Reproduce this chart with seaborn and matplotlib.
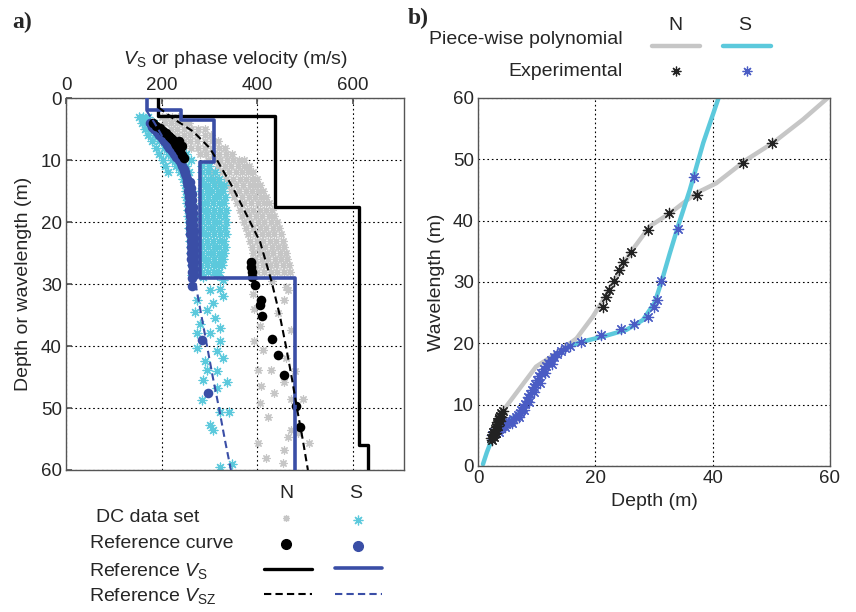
import matplotlib
matplotlib.use("Agg")
import matplotlib.pyplot as plt
import numpy as np
import pandas as pd
import seaborn as sns

# ---------------- panel a: velocity profiles ----------------
# reference Vs step models (layer tops in m, velocity in m/s), bottom at 60 m
N_VS_TOP = [0, 2.85, 17.5, 56.0]
N_VS_VEL = [193, 438, 612, 632]
S_VS_TOP = [0, 1.9, 3.5, 10.4, 29.0]
S_VS_VEL = [169, 240, 309, 280, 478]
MAX_DEPTH = 60

# time-averaged Vsz curves
N_VSZ_DEPTH = [1.5, 3.3, 5.4, 8.1, 10.3, 14.6, 18.9, 23.2, 29.6, 35, 40, 45, 50, 55, 60]
N_VSZ_VEL = [193, 224, 266, 301, 318, 350, 378, 406, 430, 447, 460, 472, 483, 495, 506]
S_VSZ_DEPTH = [2, 4, 6, 8, 10, 13, 16, 20, 25, 30, 35, 40, 45, 50, 55, 60]
S_VSZ_VEL = [168, 185, 200, 215, 232, 245, 252, 258, 263, 271, 283, 295, 307, 320, 332, 345]

# reference dispersion curves (wavelength, phase velocity)
N_REF_WL = [4.1, 4.5, 4.9, 5.3, 5.7, 6.1, 6.5, 6.8, 7.0, 7.2, 7.6, 7.8, 8.1, 8.6, 9.2, 9.6,
            26.4, 27.2, 28.0, 28.8, 30.2, 32.6, 33.4, 35.2, 38.8, 41.5, 44.7, 49.7, 53.0]
N_REF_VEL = [182, 188, 196, 203, 210, 215, 220, 224, 236, 228, 231, 243, 235, 239, 242, 246,
             387, 388, 389, 390, 396, 408, 406, 410, 431, 443, 457, 481, 490]
S_REF_WL = [4.1, 4.6, 5.0, 5.5, 6.0, 6.5, 7.0, 7.5, 8.0, 8.5, 9.0, 9.5, 10.0, 10.5, 11.0,
            11.5, 12.0, 12.5, 13.0, 13.5, 14.0, 14.5, 15.0, 15.5, 16.0, 16.5, 17.0, 17.5,
            18.0, 18.5, 19.0, 19.5, 20.0, 20.5, 21.0, 21.5, 22.0, 22.5, 23.0, 23.5, 24.0,
            24.5, 25.0, 25.5, 26.0, 26.5, 27.0, 27.5, 28.0, 28.5, 29.0, 30.4, 39.1, 47.5]
S_REF_VEL = [175, 180, 185, 190, 195, 200, 205, 211, 216, 221, 226, 231, 236, 240, 243,
             246, 249, 252, 254, 260, 255, 262, 256, 263, 257, 264, 258, 265, 258, 266,
             259, 266, 259, 266, 260, 267, 260, 267, 261, 267, 261, 268, 262, 268, 262,
             268, 263, 268, 263, 268, 264, 264, 285, 298]

# DC data sets: rows of (wavelength, [phase velocities])
N_DC_ROWS = [
    (3, [200, 210, 222, 234]),
    (4, [208, 220, 233, 246, 258]),
    (5, [220, 233, 247, 261, 276, 290]),
    (6, [232, 246, 260, 275, 290, 304]),
    (7, [246, 260, 275, 290, 305, 318]),
    (8, [262, 276, 291, 306, 320, 333]),
    (9, [280, 293, 307, 321, 335, 347]),
    (10, [296, 309, 322, 336, 350, 362, 372]),
    (11, [300, 318, 332, 346, 360, 372, 382]),
    (12, [306, 326, 341, 355, 369, 381, 391]),
    (13, [312, 334, 349, 363, 377, 389, 399]),
    (14, [318, 341, 356, 370, 384, 396, 406]),
    (15, [346, 362, 376, 390, 402, 413]),
    (16, [352, 368, 382, 396, 408, 419]),
    (17, [358, 373, 387, 401, 414, 425]),
    (18, [363, 378, 392, 406, 419, 430]),
    (19, [368, 383, 397, 411, 424, 436]),
    (20, [372, 387, 401, 415, 428, 441]),
    (21, [377, 391, 405, 419, 432, 445]),
    (22, [381, 395, 409, 423, 436, 449]),
    (23, [385, 399, 413, 427, 440, 453]),
    (24, [389, 403, 417, 431, 444, 457]),
    (25, [392, 406, 420, 434, 447, 460]),
    (26, [395, 409, 423, 437, 450, 463]),
    (27, [398, 412, 426, 440, 453, 466]),
    (28, [400, 414, 428, 442, 455, 468]),
]
N_DC_TAIL_WL = [29.5, 30.5, 31, 31.6, 32.6, 34, 34.7, 36.7, 37.4, 39.2, 40.6, 42, 43.8, 43.8,
                44.1, 45.8, 46.5, 47.6, 48.6, 48.6, 49.2, 51.4, 53.5, 54, 54.6, 55.7, 55.7,
                56.7, 58.1, 58.9]
N_DC_TAIL_VEL = [430, 460, 464, 391, 457, 394, 443, 405, 471, 394, 412, 461, 401, 429,
                 478, 457, 408, 436, 471, 496, 405, 422, 471, 485, 464, 401, 509,
                 457, 419, 454]

S_DC_ROWS = [
    (3, [152, 162, 172]),
    (4, [158, 170, 184]),
    (5, [165, 178, 194]),
    (6, [172, 186, 204]),
    (7, [180, 195, 214]),
    (8, [188, 204, 224]),
    (9, [195, 213, 234, 250]),
    (10, [202, 222, 243, 262]),
    (11, [208, 230, 252, 285, 300]),
    (12, [214, 238, 258, 285, 298, 312]),
    (13, [245, 284, 296, 308, 320]),
    (14, [248, 286, 298, 310, 322, 330]),
    (15, [250, 283, 294, 306, 318, 329]),
    (16, [252, 285, 297, 309, 321, 332]),
    (17, [253, 284, 295, 307, 319, 331]),
    (18, [255, 286, 298, 310, 322, 334]),
    (19, [256, 283, 295, 307, 320, 333]),
    (20, [257, 285, 297, 309, 321, 335]),
    (21, [258, 284, 296, 308, 320, 333]),
    (22, [259, 286, 298, 310, 322, 334]),
    (23, [260, 283, 295, 307, 319, 331]),
    (24, [261, 285, 297, 309, 321, 332]),
    (25, [262, 284, 296, 308, 320, 330]),
    (26, [263, 286, 298, 310, 322, 328]),
    (27, [264, 283, 295, 307, 318, 326]),
    (28, [265, 285, 297, 309, 320]),
]
S_DC_TAIL_WL = [28.5, 28.8, 28.6, 29.4, 31, 30.8, 32.6, 33.1, 32, 34.5, 34.2, 35.5, 36.5,
                37.9, 37.1, 37.9, 40.3, 39.2, 40.8, 42.4, 41.9, 43.8, 44.1, 45.5, 45.8,
                48.7, 46.8, 50.6, 50.6, 52.7, 53.5, 59.5, 59]
S_DC_TAIL_VEL = [263, 287, 315, 329, 301, 322, 273, 308, 329, 270, 294, 312, 280,
                 273, 322, 301, 273, 322, 315, 291, 329, 294, 315, 287, 336,
                 284, 315, 322, 340, 301, 308, 322, 347]

# ---------------- panel b: wavelength vs depth ----------------
N_POLY_DEPTH = [1.9, 3.1, 4.8, 9.9, 13.4, 16.8, 19.6, 22.4, 25.9, 29.3, 32.7, 37.2, 40.6,
                45.7, 50.3, 55.4, 59.6]
N_POLY_WL = [3.5, 5.2, 9.7, 16.2, 18.4, 20.8, 24.4, 28.7, 34.7, 39.1, 41.2, 44.5, 46.1,
             49.9, 52.7, 56.5, 60.0]
S_POLY_DEPTH = [0.85, 1.5, 2.3, 3.3, 4.8, 7.0, 8.5, 10.0, 11.5, 13.0, 15.6, 17.9, 21.3,
                25.3, 28.1, 30.1, 31.3, 32.7, 34.1, 36.1, 38.4, 41.0]
S_POLY_WL = [0.3, 2.2, 4.2, 5.8, 6.9, 8.5, 10.5, 13.6, 16.0, 17.8, 19.5, 20.3, 21.1,
             22.2, 23.8, 26.6, 30.1, 34.7, 39.1, 45.0, 52.7, 60.0]

N_EXP_DEPTH = [2.3, 2.4, 2.5, 2.6, 2.7, 2.8, 2.9, 3.0, 3.0, 3.1, 3.2, 3.3, 3.4, 3.5, 3.6,
               3.7, 3.8, 3.9, 4.0, 4.2, 21.3, 21.9, 22.3, 23.2, 24.1, 24.8, 26.0, 29.0,
               32.5, 37.4, 45.2, 50.1]
N_EXP_WL = [4.6, 4.2, 5.0, 5.5, 4.8, 5.2, 6.0, 6.4, 5.3, 5.8, 6.8, 7.2, 6.6, 7.6, 7.9,
            7.3, 8.2, 8.6, 8.0, 8.9, 26.0, 27.6, 28.7, 30.1, 32.0, 33.2, 34.9, 38.5,
            41.2, 44.2, 49.4, 52.6]
S_EXP_DEPTH = [2.4, 2.7, 3.0, 3.2, 3.5, 3.8, 4.1, 4.4, 4.8, 5.2, 5.6, 6.0, 6.4, 6.8, 7.1,
               7.4, 7.7, 8.0, 8.3, 8.6, 8.9, 9.2, 9.5, 9.8, 10.1, 10.4, 10.8, 11.2, 11.6,
               12.0, 12.5, 13.0, 13.5, 14.1, 14.8, 15.6, 3.6, 4.6, 5.8, 7.0, 7.9, 8.7,
               9.6, 10.5, 11.5, 12.6, 17.6, 21.0, 24.3, 26.6, 29.0, 30.0, 30.5, 31.25,
               34.1, 36.9]
S_EXP_WL = [5.0, 5.5, 5.4, 5.9, 6.0, 6.3, 6.5, 6.7, 6.9, 7.2, 7.4, 7.7, 8.0, 8.3, 8.7,
            9.1, 9.6, 10.1, 10.6, 11.2, 11.8, 12.4, 12.9, 13.4, 14.0, 14.6, 15.2, 15.8,
            16.3, 16.8, 17.3, 17.8, 18.3, 18.8, 19.2, 19.6, 5.6, 6.3, 7.0, 8.0, 9.2, 10.5,
            12.0, 13.6, 15.2, 16.6, 20.2, 21.4, 22.4, 23.1, 24.3, 25.9, 27.0, 30.2,
            38.6, 47.1]

BLACK = "#000000"
GREY = "#c6c6c6"
CYAN = "#5cc9dc"
BLUE = "#3a4ea6"
STAR_BLUE = "#4a5cc4"
ASTER = (8, 2, 0)


def step_profile(tops, vels, bottom):
    """Turn layer tops/velocities into the vertices of a step profile."""
    xs, ys = [], []
    bounds = list(tops) + [bottom]
    for i, v in enumerate(vels):
        xs += [v, v]
        ys += [bounds[i], bounds[i + 1]]
    return pd.DataFrame({"vel": xs, "depth": ys})


def rows_to_frame(rows, tail_wl, tail_vel):
    wl = [d for d, vs in rows for _ in vs] + list(tail_wl)
    vel = [v for _, vs in rows for v in vs] + list(tail_vel)
    return pd.DataFrame({"wl": wl, "vel": vel})


def style_axes(ax):
    for sp in ax.spines.values():
        sp.set_color("#555555")
        sp.set_linewidth(1.0)
    ax.grid(True, color="black", linestyle=(0, (1.5, 2.5)), linewidth=0.8)
    ax.tick_params(direction="in", length=4, color="#555555", labelsize=13.5, pad=3)
    ax.set_axisbelow(True)


sns.set_theme(style="white")
plt.rcParams["font.family"] = ["Liberation Sans", "DejaVu Sans"]
plt.rcParams["mathtext.fontset"] = "custom"
plt.rcParams["mathtext.rm"] = "Liberation Sans"
plt.rcParams["mathtext.it"] = "Liberation Sans:italic"

fig = plt.figure(figsize=(8.56, 6.12), dpi=100)
ax_a = fig.add_axes([66 / 856, 1 - 470 / 612, (404 - 66) / 856, (470 - 98) / 612])
ax_b = fig.add_axes([478 / 856, 1 - 466 / 612, (830 - 478) / 856, (466 - 98) / 612])

# ---- panel a
n_dc = rows_to_frame(N_DC_ROWS, N_DC_TAIL_WL, N_DC_TAIL_VEL)
s_dc = rows_to_frame(S_DC_ROWS, S_DC_TAIL_WL, S_DC_TAIL_VEL)
sns.scatterplot(data=n_dc, x="vel", y="wl", ax=ax_a, marker=ASTER, s=28,
                color=GREY, linewidth=0.9, legend=False, zorder=2)
sns.scatterplot(data=s_dc, x="vel", y="wl", ax=ax_a, marker=ASTER, s=40,
                color=CYAN, linewidth=0.9, legend=False, zorder=2)
sns.scatterplot(x=S_REF_VEL, y=S_REF_WL, ax=ax_a, marker="o", s=48, color=BLUE,
                edgecolor=BLUE, linewidth=0, legend=False, zorder=3)
sns.scatterplot(x=N_REF_VEL, y=N_REF_WL, ax=ax_a, marker="o", s=48, color=BLACK,
                edgecolor=BLACK, linewidth=0, legend=False, zorder=4)

n_vs = step_profile(N_VS_TOP, N_VS_VEL, MAX_DEPTH)
s_vs = step_profile(S_VS_TOP, S_VS_VEL, MAX_DEPTH)
sns.lineplot(data=n_vs, x="vel", y="depth", ax=ax_a, sort=False, estimator=None,
             color=BLACK, linewidth=2.4, zorder=5)
sns.lineplot(data=s_vs, x="vel", y="depth", ax=ax_a, sort=False, estimator=None,
             color=BLUE, linewidth=2.6, zorder=5)
sns.lineplot(x=N_VSZ_VEL, y=N_VSZ_DEPTH, ax=ax_a, sort=False, estimator=None,
             color=BLACK, linewidth=1.5, linestyle=(0, (3.5, 2)), zorder=6)
sns.lineplot(x=S_VSZ_VEL, y=S_VSZ_DEPTH, ax=ax_a, sort=False, estimator=None,
             color=BLUE, linewidth=1.5, linestyle=(0, (3.5, 2)), zorder=6)

ax_a.set_xlim(0, 707)
ax_a.set_ylim(60, 0)
ax_a.set_xticks([0, 200, 400, 600])
ax_a.set_yticks(range(0, 61, 10))
ax_a.xaxis.tick_top()
ax_a.xaxis.set_label_position("top")
ax_a.set_xlabel(r"$V_\mathrm{S}$ or phase velocity (m/s)", fontsize=14, labelpad=9)
ax_a.set_ylabel("Depth or wavelength (m)", fontsize=14, labelpad=6)
style_axes(ax_a)
ax_a.tick_params(top=True, bottom=False, left=True)

# ---- panel b
sns.lineplot(x=N_POLY_DEPTH, y=N_POLY_WL, ax=ax_b, sort=False, estimator=None,
             color=GREY, linewidth=3.2, zorder=2)
sns.lineplot(x=S_POLY_DEPTH, y=S_POLY_WL, ax=ax_b, sort=False, estimator=None,
             color=CYAN, linewidth=3.2, zorder=2)
sns.scatterplot(x=S_EXP_DEPTH, y=S_EXP_WL, ax=ax_b, marker=ASTER, s=55,
                color=STAR_BLUE, linewidth=0.9, legend=False, zorder=3)
sns.scatterplot(x=N_EXP_DEPTH, y=N_EXP_WL, ax=ax_b, marker=ASTER, s=55,
                color="#222222", linewidth=0.9, legend=False, zorder=4)
ax_b.set_xlim(0, 60)
ax_b.set_ylim(0, 60)
ax_b.set_xticks([0, 20, 40, 60])
ax_b.set_yticks(range(0, 61, 10))
ax_b.set_xlabel("Depth (m)", fontsize=14, labelpad=4)
ax_b.set_ylabel("Wavelength (m)", fontsize=14, labelpad=6)
style_axes(ax_b)

# ---- panel letters and legend keys drawn in a figure-pixel overlay
key = fig.add_axes([0, 0, 1, 1])
key.set_xlim(0, 856)
key.set_ylim(612, 0)
key.axis("off")

serif = ["Liberation Serif", "DejaVu Serif"]
key.text(12, 22, "a)", fontsize=17, fontweight="bold", family=serif, va="center")
key.text(408, 18, "b)", fontsize=17, fontweight="bold", family=serif, va="center")

# legend of panel a
for x, lab in [(286, "N"), (356, "S")]:
    key.text(x, 493, lab, fontsize=14, ha="center", va="center")
rows_a = [(518, "DC data set", 96), (544, "Reference curve", 90),
          (571, r"Reference $V_\mathrm{S}$", 89), (596, r"Reference $V_\mathrm{SZ}$", 89)]
for y, lab, x in rows_a:
    key.text(x, y, lab, fontsize=14, ha="left", va="center")
key.plot([286], [518], marker=ASTER, ms=5, color=GREY, mew=0.9, ls="none")
key.plot([358], [520], marker=ASTER, ms=7, color=CYAN, mew=0.9, ls="none")
key.plot([286], [544], marker="o", ms=7, color=BLACK, ls="none")
key.plot([358], [546], marker="o", ms=7, color=BLUE, ls="none")
key.plot([264, 312], [569, 569], color=BLACK, lw=2.4)
key.plot([335, 382], [568, 568], color=BLUE, lw=2.6)
key.plot([264, 312], [594, 594], color=BLACK, lw=1.5, ls=(0, (3.5, 2)))
key.plot([335, 382], [594, 594], color=BLUE, lw=1.5, ls=(0, (3.5, 2)))

# legend of panel b
for x, lab in [(675, "N"), (745, "S")]:
    key.text(x, 25, lab, fontsize=14, ha="center", va="center")
key.text(623, 40, "Piece-wise polynomial", fontsize=14, ha="right", va="center")
key.text(623, 71, "Experimental", fontsize=14, ha="right", va="center")
key.plot([652, 700], [46, 46], color=GREY, lw=3.2)
key.plot([723, 771], [46, 46], color=CYAN, lw=3.2)
key.plot([676], [71], marker=ASTER, ms=7, color="#222222", mew=0.9, ls="none")
key.plot([747], [71], marker=ASTER, ms=7, color=STAR_BLUE, mew=0.9, ls="none")

fig.savefig("out.png", dpi=100)
